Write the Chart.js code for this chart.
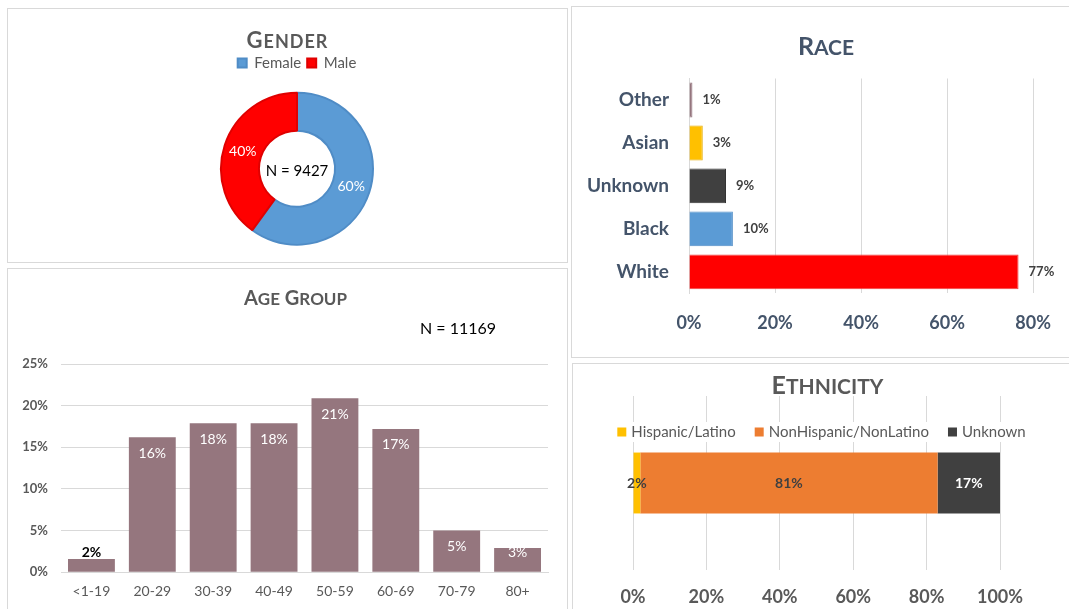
<!DOCTYPE html>
<html>
<head>
<meta charset="utf-8">
<script src="https://cdn.jsdelivr.net/npm/chart.js@4.4.0/dist/chart.umd.min.js"></script>
<style>
    body { margin: 0; background: #fff; width: 1069px; height: 609px; overflow: hidden; position: relative; }
    .panel { position: absolute; border: 1px solid #d9d9d9; box-sizing: border-box; background: #fff; }
    .panel canvas { display: block; }
</style>
</head>
<body>
<div class="panel" style="left:7px; top:8px; width:561px; height:255px;"><canvas id="genderChart"></canvas></div>
<div class="panel" style="left:7px; top:268px; width:561px; height:345px;"><canvas id="ageChart"></canvas></div>
<div class="panel" style="left:571px; top:6px; width:500px; height:352px;"><canvas id="raceChart"></canvas></div>
<div class="panel" style="left:572px; top:363px; width:499px; height:250px;"><canvas id="ethnicityChart"></canvas></div>

<script>
// dados
const genderLabels = ['Female', 'Male'];
const genderValues = [60, 40];
const genderN = 9427;

const ageLabels = ['<1-19', '20-29', '30-39', '40-49', '50-59', '60-69', '70-79', '80+'];
const ageValues = [1.6, 16.2, 17.9, 17.9, 20.9, 17.2, 5.0, 2.9];
const ageN = 11169;

const raceLabels = ['Other', 'Asian', 'Unknown', 'Black', 'White'];
const raceValues = [0.8, 3.2, 8.6, 10.2, 76.6];

const ethLabels = ['Hispanic/Latino', 'NonHispanic/NonLatino', 'Unknown'];
const ethValues = [2, 81, 17];

const FONT = 'Lato, "Open Sans", sans-serif';
Chart.defaults.font.family = FONT;
Chart.defaults.animation = false;
Chart.defaults.plugins.tooltip.enabled = false;

const pct = v => Math.round(v) + '%';

// titulo em versalete (primeira letra maior), desenhado no lugar do titulo do Chart.js
Chart.register({
    id: 'capsTitle',
    afterDraw(chart, args, opts) {
        const t = chart.titleBlock;
        if (!t || !t.options.display) return;
        const big = t.options.font.size;
        const small = Math.round(big * 0.84);
        const parts = [];
        t.options.text.split(' ').forEach((w, k) => {
            if (k) parts.push({ s: ' ', f: big });
            parts.push({ s: w[0].toUpperCase(), f: big });
            parts.push({ s: w.slice(1).toUpperCase(), f: small });
        });
        const ctx = chart.ctx;
        ctx.save();
        ctx.letterSpacing = (opts.spacing || 0) + 'px';
        let total = 0;
        parts.forEach(p => {
            ctx.font = 'bold ' + p.f + 'px ' + FONT;
            p.w = ctx.measureText(p.s).width;
            total += p.w;
        });
        const lh = big * 1.2;
        const cy = t.top + t.options.padding.top + lh / 2;
        let x = chart.width / 2 + (opts.dx || 0) - total / 2;
        ctx.fillStyle = opts.color || '#595959';
        ctx.textBaseline = 'alphabetic';
        ctx.textAlign = 'left';
        parts.forEach(p => {
            ctx.font = 'bold ' + p.f + 'px ' + FONT;
            ctx.fillText(p.s, x, cy + big * 0.36);
            x += p.w;
        });
        ctx.restore();
    }
});

// Gender - rosca
new Chart(document.getElementById('genderChart'), {
    type: 'doughnut',
    data: {
        labels: genderLabels,
        datasets: [{
            data: genderValues,
            backgroundColor: ['#5B9BD5', '#FF0000'],
            borderColor: ['#4F8CC6', '#E00000'],
            borderWidth: 2,
            radius: 76,
            cutout: '50%'
        }]
    },
    options: {
        responsive: true,
        maintainAspectRatio: false,
        layout: { padding: { left: 19, bottom: 5 } },
        plugins: {
            title: {
                display: true,
                text: 'Gender',
                color: 'rgba(0,0,0,0)',
                font: { size: 22 },
                padding: { top: 18, bottom: -4 }
            },
            capsTitle: { color: '#595959', spacing: 1, dx: 0 },
            legend: {
                position: 'top',
                labels: { boxWidth: 9, boxHeight: 9, padding: 6, color: '#595959', font: { size: 15 } }
            }
        }
    },
    plugins: [{
        id: 'genderText',
        afterDatasetsDraw(chart) {
            const ctx = chart.ctx;
            const meta = chart.getDatasetMeta(0);
            ctx.save();
            ctx.textAlign = 'center';
            ctx.textBaseline = 'middle';
            ctx.font = '14px ' + FONT;
            ctx.fillStyle = '#fff';
            meta.data.forEach((arc, i) => {
                const p = arc.tooltipPosition();
                ctx.fillText(pct(genderValues[i]), p.x, p.y);
            });
            const c = meta.data[0];
            ctx.fillStyle = '#000';
            ctx.font = '15px ' + FONT;
            ctx.fillText('N = ' + genderN, c.x, c.y + 2);
            ctx.restore();
        }
    }]
});

// Age group - colunas
new Chart(document.getElementById('ageChart'), {
    type: 'bar',
    data: {
        labels: ageLabels,
        datasets: [{
            data: ageValues,
            backgroundColor: '#95767E',
            barPercentage: 0.77,
            categoryPercentage: 1
        }]
    },
    options: {
        responsive: true,
        maintainAspectRatio: false,
        layout: { padding: { left: 0, right: 19, bottom: 1 } },
        plugins: {
            legend: { display: false },
            title: {
                display: true,
                text: 'Age Group',
                color: 'rgba(0,0,0,0)',
                font: { size: 20 },
                padding: { top: 17, bottom: 54 }
            },
            capsTitle: { color: '#595959', spacing: 0, dx: 8 }
        },
        scales: {
            x: {
                grid: { display: false, drawTicks: false },
                border: { color: '#d9d9d9' },
                ticks: { color: '#595959', font: { size: 14 }, padding: 11 }
            },
            y: {
                min: 0,
                max: 25,
                afterFit: s => { s.width = 53; },
                ticks: { stepSize: 5, callback: v => v + '%', color: '#595959', font: { size: 13, weight: 'bold' }, padding: 13 },
                grid: { color: '#d9d9d9', drawTicks: false },
                border: { display: false }
            }
        }
    },
    plugins: [{
        id: 'ageText',
        afterDatasetsDraw(chart) {
            const ctx = chart.ctx;
            ctx.save();
            ctx.textAlign = 'center';
            ctx.textBaseline = 'middle';
            chart.getDatasetMeta(0).data.forEach((bar, i) => {
                const h = bar.base - bar.y;
                const y = Math.min(bar.y + 16, bar.base - 19);
                if (h > 20) {
                    ctx.fillStyle = '#fff';
                    ctx.font = '14px ' + FONT;
                } else {
                    ctx.fillStyle = '#000';
                    ctx.font = 'bold 14px ' + FONT;
                }
                ctx.fillText(pct(ageValues[i]), bar.x, y);
            });
            const a = chart.chartArea;
            ctx.fillStyle = '#000';
            ctx.font = '16px ' + FONT;
            ctx.fillText('N = ' + ageN, a.right - 90, a.top - 35);
            ctx.restore();
        }
    }]
});

// Race - barras horizontais
new Chart(document.getElementById('raceChart'), {
    type: 'bar',
    data: {
        labels: raceLabels,
        datasets: [{
            data: raceValues,
            backgroundColor: ['#95767E', '#FFC000', '#404040', '#5B9BD5', '#FF0000'],
            borderColor: ['#95767E', '#E6AC00', '#333333', '#4F8CC6', '#F04040'],
            borderWidth: 1,
            barPercentage: 0.81,
            categoryPercentage: 1
        }]
    },
    options: {
        indexAxis: 'y',
        responsive: true,
        maintainAspectRatio: false,
        layout: { padding: { left: 0, right: 27, bottom: 4 } },
        plugins: {
            legend: { display: false },
            title: {
                display: true,
                text: 'Race',
                color: 'rgba(0,0,0,0)',
                font: { size: 25 },
                padding: { top: 24, bottom: 17.5 }
            },
            capsTitle: { color: '#44546A', spacing: 0, dx: 5 }
        },
        scales: {
            x: {
                min: 0,
                max: 80,
                ticks: { stepSize: 20, callback: v => v + '%', color: '#44546A', font: { size: 18, weight: 'bold' }, padding: 19 },
                grid: { color: '#d9d9d9', drawTicks: false },
                border: { display: false }
            },
            y: {
                afterFit: s => { s.width = 117; },
                grid: { display: false, drawTicks: false },
                border: { color: '#d9d9d9' },
                ticks: { color: '#44546A', font: { size: 19, weight: 'bold' }, padding: 20 }
            }
        }
    },
    plugins: [{
        id: 'raceText',
        afterDatasetsDraw(chart) {
            const ctx = chart.ctx;
            ctx.save();
            ctx.textAlign = 'left';
            ctx.textBaseline = 'middle';
            ctx.fillStyle = '#404040';
            ctx.font = 'bold 13px ' + FONT;
            chart.getDatasetMeta(0).data.forEach((bar, i) => {
                ctx.fillText(pct(raceValues[i]), bar.x + 10, bar.y);
            });
            ctx.restore();
        }
    }]
});

// Ethnicity - barra empilhada 100%
const ethColors = ['#FFC000', '#ED7D31', '#404040'];
const ethTextColors = ['#404040', '#404040', '#ffffff'];
new Chart(document.getElementById('ethnicityChart'), {
    type: 'bar',
    data: {
        labels: [''],
        datasets: ethLabels.map((l, i) => ({
            label: l,
            data: [ethValues[i]],
            backgroundColor: ethColors[i],
            barPercentage: 0.35,
            categoryPercentage: 1
        }))
    },
    options: {
        indexAxis: 'y',
        responsive: true,
        maintainAspectRatio: false,
        layout: { padding: { left: 60, right: 70, bottom: 0 } },
        plugins: {
            title: {
                display: true,
                text: 'Ethnicity',
                color: 'rgba(0,0,0,0)',
                font: { size: 25 },
                padding: { top: 6, bottom: -4 }
            },
            capsTitle: { color: '#595959', spacing: 0, dx: 6 },
            legend: { display: false }
        },
        scales: {
            x: {
                stacked: true,
                min: 0,
                max: 100,
                afterFit: s => { s.height = 42; },
                ticks: { stepSize: 20, callback: v => v + '%', color: '#595959', font: { size: 18, weight: 'bold' }, padding: 16 },
                grid: { color: '#d9d9d9', drawTicks: false },
                border: { display: false }
            },
            y: { stacked: true, display: false }
        }
    },
    plugins: [{
        id: 'ethText',
        afterDatasetsDraw(chart) {
            const ctx = chart.ctx;
            const area = chart.chartArea;
            ctx.save();
            ctx.textBaseline = 'middle';
            // rotulos dos segmentos
            ctx.textAlign = 'center';
            ctx.font = 'bold 14px ' + FONT;
            chart.data.datasets.forEach((ds, i) => {
                const bar = chart.getDatasetMeta(i).data[0];
                ctx.fillStyle = ethTextColors[i];
                ctx.fillText(pct(ethValues[i]), (bar.x + bar.base) / 2, bar.y);
            });
            // legenda dentro da area do grafico
            ctx.font = '15px ' + FONT;
            ctx.textAlign = 'left';
            const box = 9, gapText = 5, gapItem = 19;
            const widths = chart.data.datasets.map(ds => box + gapText + ctx.measureText(ds.label).width);
            const total = widths.reduce((a, b) => a + b, 0) + gapItem * (widths.length - 1);
            let x = chart.width / 2 - total / 2;
            const y = area.top + 36;
            ctx.fillStyle = '#fff';
            ctx.fillRect(x - 4, y - 10, total + 8, 20);
            chart.data.datasets.forEach((ds, i) => {
                ctx.fillStyle = ds.backgroundColor;
                ctx.fillRect(x, y - box / 2, box, box);
                ctx.fillStyle = '#595959';
                ctx.fillText(ds.label, x + box + gapText, y);
                x += widths[i] + gapItem;
            });
            ctx.restore();
        }
    }]
});
</script>
</body>
</html>
